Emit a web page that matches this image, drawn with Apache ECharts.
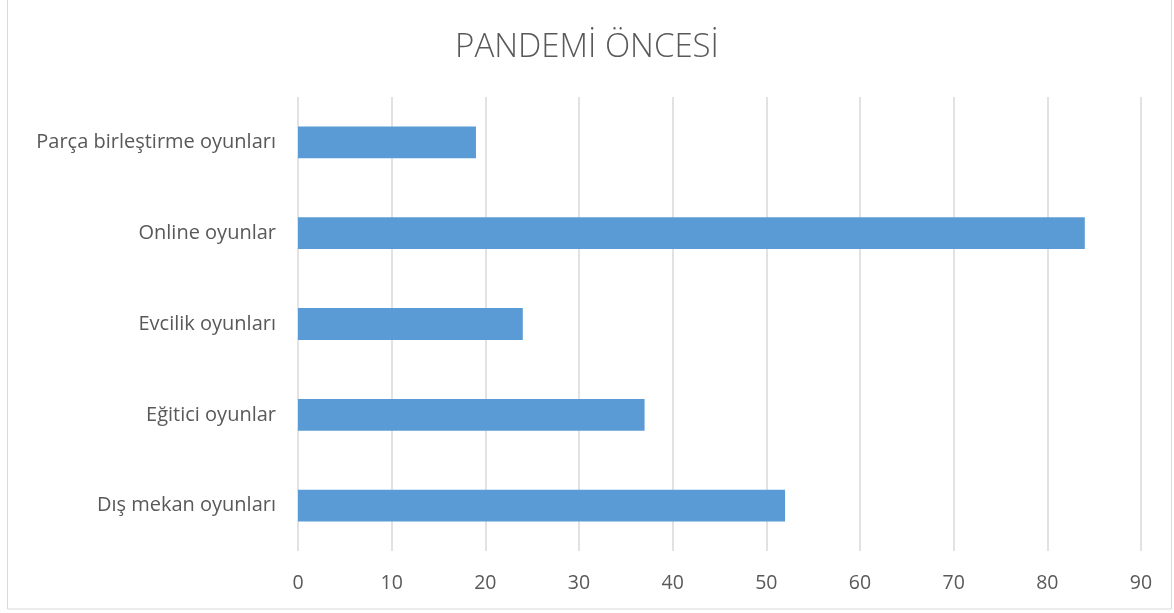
<!DOCTYPE html>
<html>
<head>
<meta charset="utf-8">
<script src="https://cdn.jsdelivr.net/npm/echarts@6/dist/echarts.min.js"></script>
<style>
html,body{margin:0;padding:0;background:#fff;}
#c{width:1174px;height:613px;}
</style>
</head>
<body>
<div id="c"></div>
<script>
const categories = ["Dış mekan oyunları", "Eğitici oyunlar", "Evcilik oyunları", "Online oyunlar", "Parça birleştirme oyunları"];
const values = [52, 37, 24, 84, 19];
const titleText = "PANDEMİ ÖNCESİ";

const chart = echarts.init(document.getElementById('c'));
chart.setOption({
  backgroundColor: '#ffffff',
  animation: false,
  title: {
    text: titleText,
    left: 'center',
    top: 26,
    textStyle: { fontFamily: 'Open Sans', fontWeight: 300, fontSize: 33, color: '#595959' }
  },
  graphic: [{
    type: 'rect',
    shape: { x: 7.5, y: -2, width: 1164, height: 611 },
    style: { fill: 'none', stroke: '#d9d9d9', lineWidth: 1 },
    silent: true
  }],
  grid: { left: 298, right: 33, top: 97, bottom: 62, containLabel: false },
  xAxis: {
    type: 'value',
    min: 0, max: 90, interval: 10,
    axisLine: { show: false },
    axisTick: { show: false },
    splitLine: { show: true, lineStyle: { color: '#d9d9d9', width: 1.5 } },
    axisLabel: { color: '#595959', fontFamily: 'Open Sans', fontSize: 19.5, margin: 22 }
  },
  yAxis: {
    type: 'category',
    data: categories,
    axisLine: { show: false },
    axisTick: { show: false },
    axisLabel: { color: '#595959', fontFamily: 'Open Sans', fontSize: 20, margin: 22 }
  },
  series: [{
    type: 'bar',
    data: values,
    barWidth: '35%',
    itemStyle: { color: '#5b9bd5' }
  }]
});
</script>
</body>
</html>
